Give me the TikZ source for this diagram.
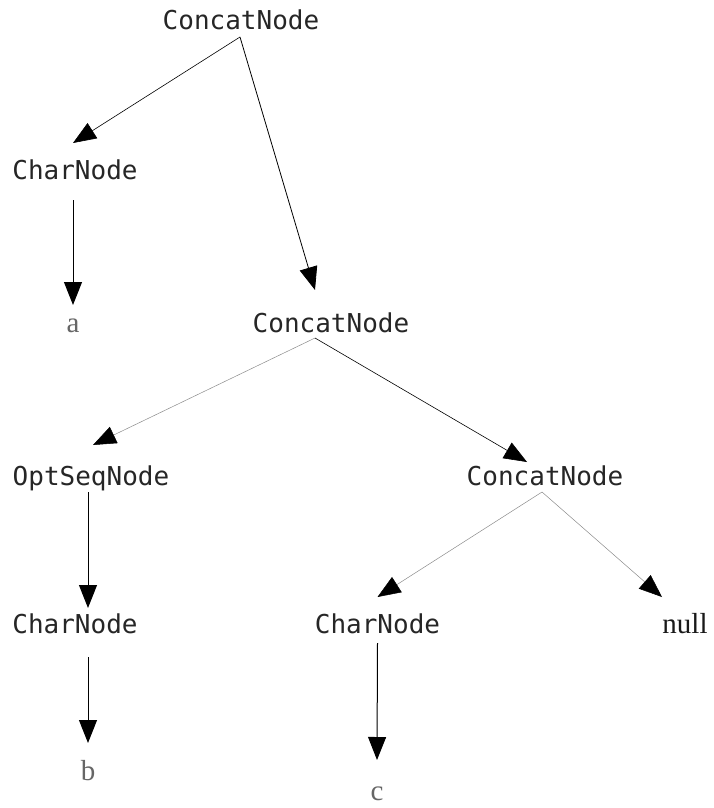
\documentclass[tikz,border=0pt]{standalone}
\usepackage{fontspec}
\setmonofont{DejaVu Sans Mono}
\newfontfamily\leaffont{Liberation Serif}
\usetikzlibrary{positioning, calc}
\usetikzlibrary{arrows.meta}

\begin{document}
\begin{tikzpicture}[x=1pt, y=-1pt,
    lbl/.style={anchor=base, inner sep=0pt, text=black!85, font=\ttfamily\fontsize{26}{26}\selectfont},
    leaf/.style={anchor=base, inner sep=0pt, text=black!60, font=\leaffont\fontsize{29}{29}\selectfont},
    link/.style={-{Triangle[length=23pt, width=18pt, color=black]}, line width=0.8pt},
    thin link/.style={link, line width=0.5pt, draw=black!45}]
            \useasboundingbox[fill=white] (0,0) rectangle (714,808);
            \node[lbl] (top) at (241,30) {ConcatNode};
            \node[lbl] (ch1) at (75,179) {CharNode};
            \node[leaf] (a) at (73,332) {a};
            \node[lbl] (c1) at (331,332) {ConcatNode};
            \node[lbl] (opt) at (91,485) {OptSeqNode};
            \node[lbl] (c2) at (545,485) {ConcatNode};
            \node[lbl] (ch2) at (75,633) {CharNode};
            \node[leaf] (b) at (88,780) {b};
            \node[lbl] (ch3) at (377.5,633) {CharNode};
            \node[leaf] (c) at (377,800) {c};
            \node[leaf, text=black!90] (null) at (685,633) {null};
            \draw[link, line width=0.6pt] ($(top.base)+(-1,7)$) -- ($(ch1.base)+(-2,-36)$);
            \draw[link] ($(top.base)+(-1,7)$) -- ($(c1.base)+(-16,-42)$);
            \draw[link, line width=1pt] ($(ch1.base)+(-2,21)$) -- ($(a.base)+(0,-27)$);
            \draw[thin link] ($(c1.base)+(-16,6)$) -- ($(opt.base)+(2,-40)$);
            \draw[link, line width=0.6pt] ($(c1.base)+(-16,6)$) -- ($(c2.base)+(-18,-23)$);
            \draw[link, line width=1pt] ($(opt.base)+(-3,7)$) -- ($(ch2.base)+(13,-25)$);
            \draw[link, line width=1pt] ($(ch2.base)+(13,24)$) -- ($(b.base)+(0,-37)$);
            \draw[thin link] ($(c2.base)+(-3,7)$) -- ($(ch3.base)+(0,-36)$);
            \draw[thin link] ($(c2.base)+(-3,7)$) -- ($(null.base)+(-23,-36)$);
            \draw[link, line width=1pt] ($(ch3.base)+(0,10)$) -- ($(c.base)+(0,-40)$);
        \end{tikzpicture}
\end{document}
